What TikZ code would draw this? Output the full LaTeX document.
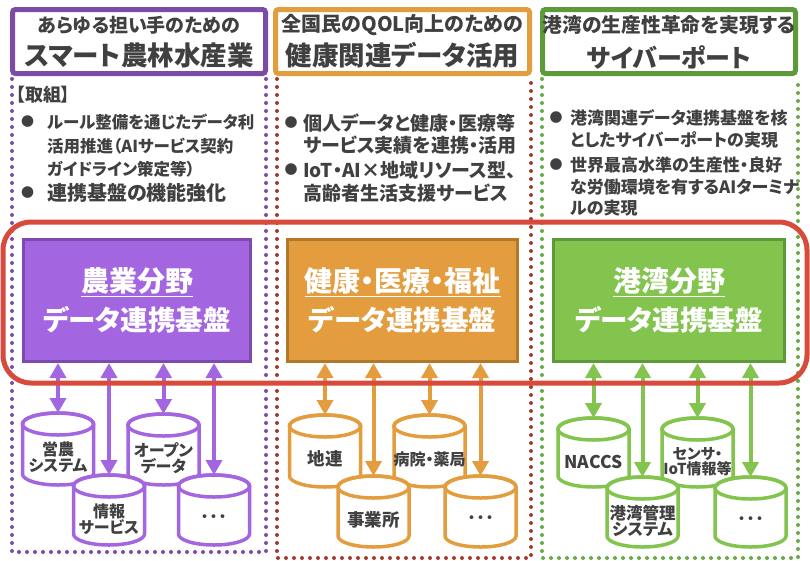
\documentclass[tikz,border=0pt]{standalone}
\usepackage{fontspec}
\setmainfont{Noto Sans CJK JP}[RawFeature=+palt]
\usetikzlibrary{arrows.meta}
\definecolor{tgray}{HTML}{404040}
\definecolor{pu}{HTML}{A366E0}
\definecolor{puD}{HTML}{7D4BB0}
\definecolor{puH}{HTML}{7B4BA6}
\definecolor{orc}{HTML}{E39D3E}
\definecolor{orD}{HTML}{B07828}
\definecolor{orDot}{HTML}{A33A2E}
\definecolor{grc}{HTML}{82C44E}
\definecolor{grD}{HTML}{5E9A3A}
\definecolor{grDot}{HTML}{6AAA45}
\definecolor{redline}{HTML}{D84B3C}
\newcommand\dbc[7]{%
  \path[draw=#5,fill=white,line width=3.5pt] (#2-35.5,#3+11) -- (#2-35.5,#4-11)
    arc[start angle=180,end angle=360,x radius=35.5pt,y radius=11pt] -- (#2+35.5,#3+11)
    arc[start angle=0,end angle=180,x radius=35.5pt,y radius=11pt] -- cycle;
  \draw[#5,line width=3.5pt] (#2,#3+11) ellipse[x radius=35.5pt,y radius=11pt];
  \coordinate (#1) at (#2,#3);
  \node[txt,fs=#6,align=center] (#1t) at (#2,#3+44) {#7};
}
\begin{document}
\begin{tikzpicture}[x=1pt,y=-1pt,
  txt/.style={text=tgray,inner sep=0pt},
  fs/.style={font=\bfseries\fontsize{#1}{#1*1.15}\selectfont},
  hdr/.style={draw=#1,line width=5pt,fill=white,rounded corners=3pt,minimum height=64pt,inner sep=0pt},
  plat/.style={line width=3pt,minimum height=122pt,inner sep=0pt},
  dots/.style={draw=#1,line width=4pt,dash pattern=on 0pt off 8pt,line cap=round},
  ptxt/.style={text=white,inner sep=0pt,font=\bfseries\fontsize{#1}{#1}\selectfont},
  arrw/.style={draw=#1,line width=4pt,{Triangle[length=15pt,width=16pt]}-{Triangle[length=15pt,width=16pt]}},
  bul/.style={txt,fs=#1,anchor=west}
]
\useasboundingbox (0,0) rectangle (810,560);
% dotted column frames
\draw[dots=puH] (12,79) -- (12,552) -- (266,552) -- (266,79);
\draw[dots=orDot] (277,79) -- (277,558) -- (531,558) -- (531,79);
\draw[dots=grDot] (542,79) -- (542,558) -- (798,558) -- (798,79);
% headers
\node[hdr=puH,minimum width=253pt] (H1) at (139,41.5) {};
\node[hdr=orc,minimum width=254pt] (H2) at (402.5,41.5) {};
\node[hdr=grD,minimum width=253pt] (H3) at (669,41.5) {};
\node[txt,fs=19pt] (h1a) at (139,25) {あらゆる担い手のための};
\node[txt,fs=26.5pt] (h1b) at (139,55) {スマート農林水産業};
\node[txt,fs=20pt] (h2a) at (402.5,25) {全国民のQOL向上のための};
\node[txt,fs=26.5pt] (h2b) at (402.5,55) {健康関連データ活用};
\node[txt,fs=19.8pt] (h3a) at (669,25) {港湾の生産性革命を実現する};
\node[txt,fs=25pt] (h3b) at (669,57) {サイバーポート};
% bullets purple
\node[bul=18pt] (t0) at (16,95) {【取組】};
\node[txt,fs=13pt] (b1) at (27.5,122) {●};
\node[bul=16.5pt] (t1) at (47,122) {ルール整備を通じたデータ利};
\node[bul=16.5pt] (t2) at (47,146) {活用推進（AIサービス契約};
\node[bul=16.5pt] (t3) at (47,169) {ガイドライン策定等）};
\node[txt,fs=13pt] (b2) at (27.5,193) {●};
\node[bul=20pt] (t4) at (47,193) {連携基盤の機能強化};
% bullets orange
\node[txt,fs=13pt] (b3) at (291,123) {●};
\node[bul=19pt] (u1) at (303,123) {個人データと健康・医療等};
\node[bul=19pt] (u2) at (303,145) {サービス実績を連携・活用};
\node[txt,fs=13pt] (b4) at (291,170) {●};
\node[bul=19pt] (u3) at (303,170) {IoT・AI×地域リソース型、};
\node[bul=19pt] (u4) at (303,193) {高齢者生活支援サービス};
% bullets green
\node[txt,fs=13pt] (b5) at (556,118) {●};
\node[bul=17pt] (v1) at (570,118) {港湾関連データ連携基盤を核};
\node[bul=17pt] (v2) at (570,140) {としたサイバーポートの実現};
\node[txt,fs=13pt] (b6) at (556,165) {●};
\node[bul=17pt] (v3) at (570,165) {世界最高水準の生産性・良好};
\node[bul=17pt] (v4) at (570,187) {な労働環境を有するAIターミナ};
\node[bul=17pt] (v5) at (570,208) {ルの実現};
% platforms
\node[plat,draw=puD,fill=pu,minimum width=227pt] (P1) at (137,300.5) {};
\node[plat,draw=orD,fill=orc,minimum width=230pt] (P2) at (402.5,300.5) {};
\node[plat,draw=grD,fill=grc,minimum width=231pt] (P3) at (669,300.5) {};
\node[ptxt=28pt] (p1a) at (137,282) {\underline{農業分野}};
\node[ptxt=27.5pt] (p1b) at (137,320) {データ連携基盤};
\node[ptxt=28pt] (p2a) at (402.5,282) {\underline{健康・医療・福祉}};
\node[ptxt=27.5pt] (p2b) at (402.5,320) {データ連携基盤};
\node[ptxt=28pt] (p3a) at (669,282) {\underline{港湾分野}};
\node[ptxt=27.5pt] (p3b) at (669,320) {データ連携基盤};
% upper cylinders
\dbc{pA}{58}{413}{485}{pu}{16pt}{営農\\システム}
\dbc{pC}{163.5}{414}{485}{pu}{16pt}{オープン\\データ}
\dbc{oA}{325}{415}{487}{orc}{17.5pt}{地連}
\dbc{oC}{429.5}{415}{487}{orc}{16pt}{病院・薬局}
\dbc{gA}{593.5}{418}{487}{grc}{17.5pt}{NACCS}
\dbc{gC}{697.5}{418}{487}{grc}{15pt}{センサ・\\IoT情報等}
% arrows to upper cylinders
\draw[arrw=pu] (P1.south -| pA) -- (pA);
\draw[arrw=pu] (P1.south -| pC) -- (pC);
\draw[arrw=orc] (P2.south -| oA) -- (oA);
\draw[arrw=orc] (P2.south -| oC) -- (oC);
\draw[arrw=grc] (P3.south -| gA) -- (gA);
\draw[arrw=grc] (P3.south -| gC) -- (gC);
% lower cylinders
\dbc{pB}{109}{475}{545}{pu}{16pt}{情報\\サービス}
\dbc{pD}{214}{475}{545}{pu}{18pt}{･･･}
\dbc{oB}{373.5}{476}{547}{orc}{17.5pt}{事業所}
\dbc{oD}{480.5}{476}{547}{orc}{18pt}{･･･}
\dbc{gB}{642.5}{477}{547}{grc}{16.5pt}{港湾管理\\システム}
\dbc{gD}{750.5}{477}{547}{grc}{18pt}{･･･}
\draw[arrw=pu] (P1.south -| pB) -- (pB);
\draw[arrw=pu] (P1.south -| pD) -- (pD);
\draw[arrw=orc] (P2.south -| oB) -- (oB);
\draw[arrw=orc] (P2.south -| oD) -- (oD);
\draw[arrw=grc] (P3.south -| gB) -- (gB);
\draw[arrw=grc] (P3.south -| gD) -- (gD);
% red frame
\draw[redline,line width=5pt,rounded corners=28pt] (3,222) rectangle (807,383);
\end{tikzpicture}
\end{document}
